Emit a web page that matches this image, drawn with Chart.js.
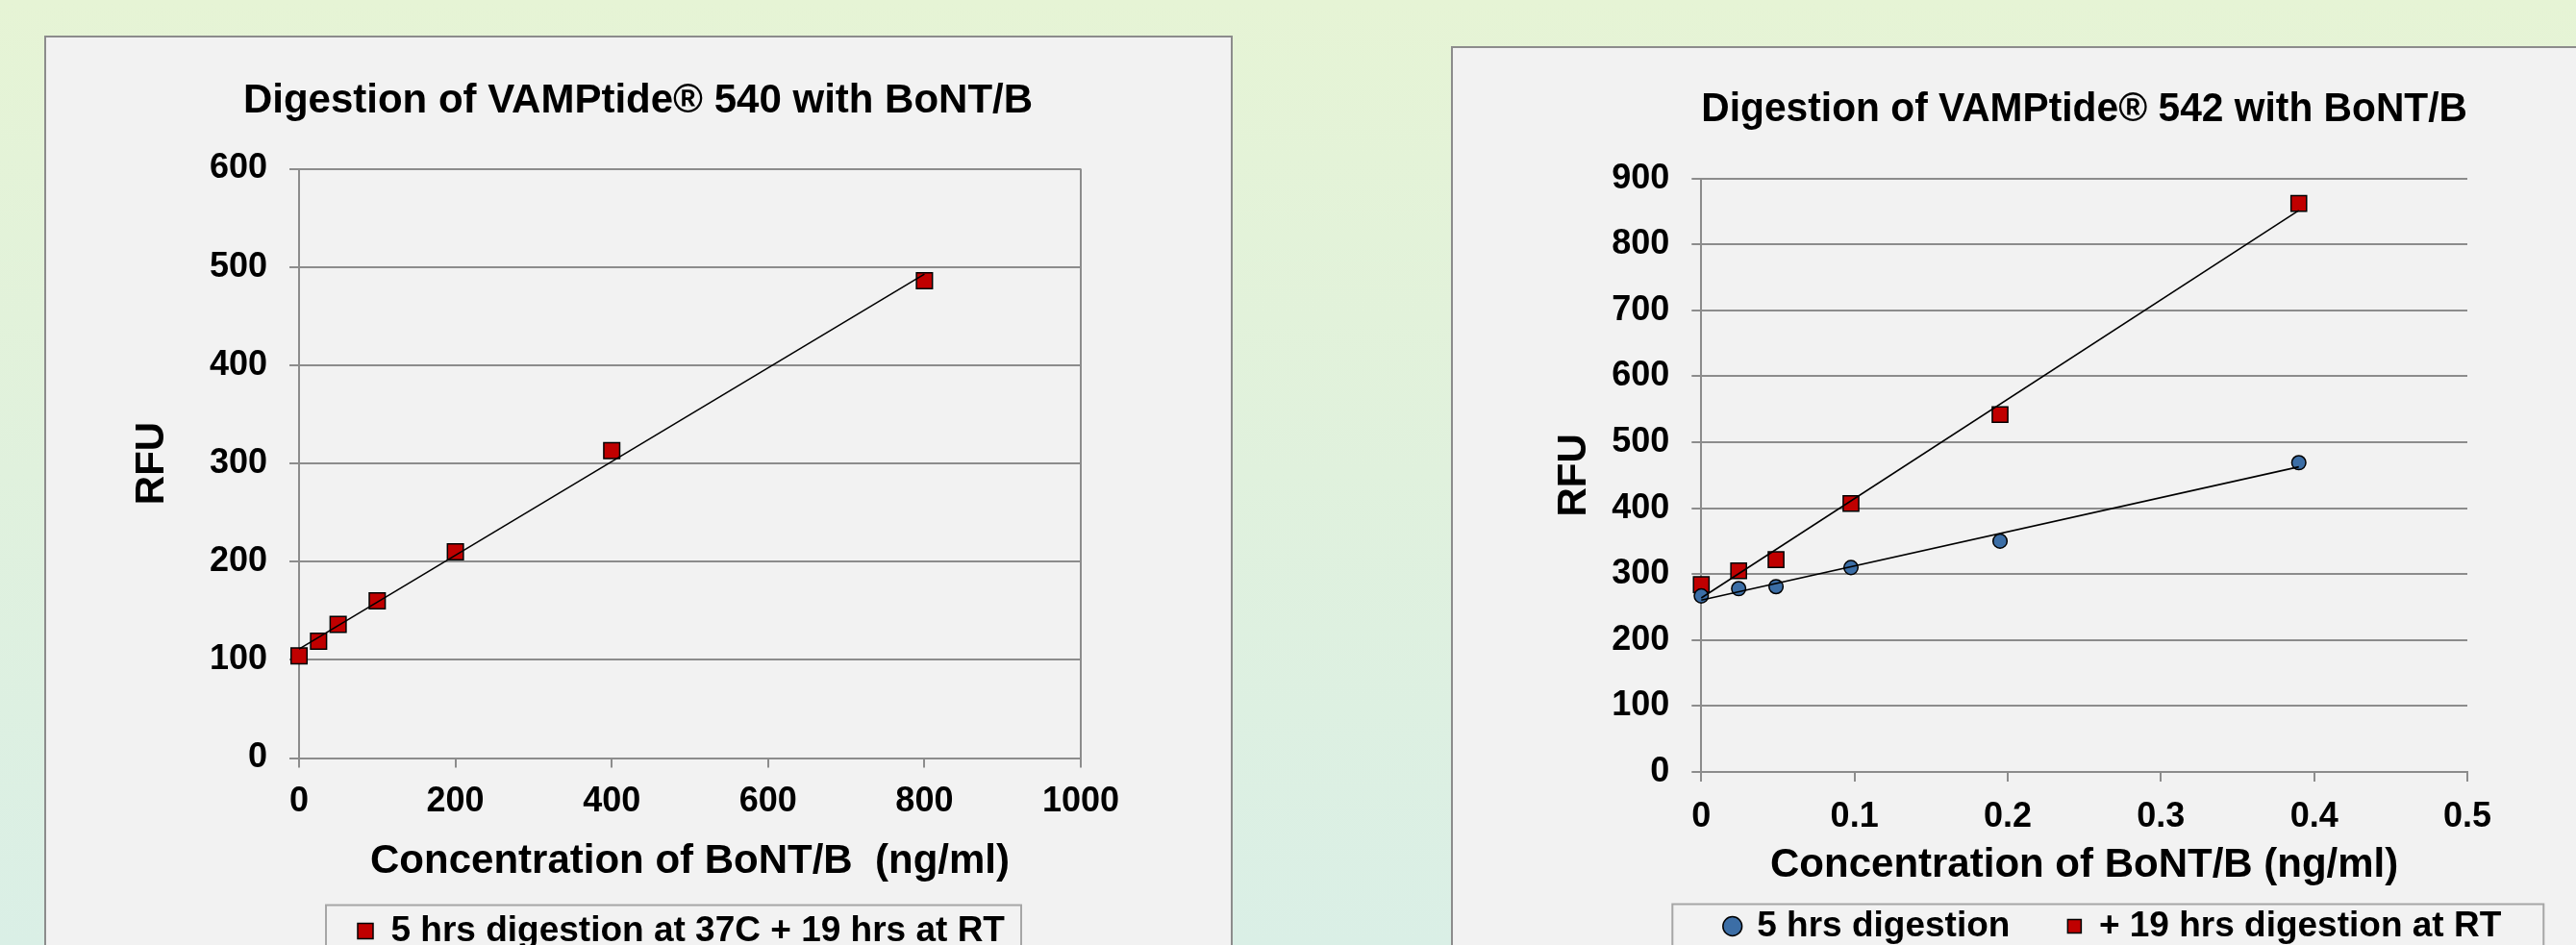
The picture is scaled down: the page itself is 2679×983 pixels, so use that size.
<!DOCTYPE html>
<html><head><meta charset="utf-8">
<script src="https://cdn.jsdelivr.net/npm/chart.js@4.4.1/dist/chart.umd.min.js"></script>
<style>
html,body{margin:0;padding:0;width:2679px;height:983px;overflow:hidden;}
body{position:relative;background:linear-gradient(to bottom,#e6f4d5 0%,#e0f1dd 50%,#daefe6 100%);}
.panel{position:absolute;background:#f2f2f2;border:2px solid #8c8c8c;box-sizing:border-box;}
#p1{left:46px;top:37px;width:1236px;height:1000px;}
#p2{left:1509px;top:48px;width:1250px;height:1000px;}
canvas{position:absolute;}
#c1{left:47px;top:38px;}
#c2{left:1510px;top:49px;}
</style></head><body>
<div class="panel" id="p1"></div><div class="panel" id="p2"></div>
<canvas id="c1" width="1233" height="959"></canvas>
<canvas id="c2" width="1376" height="943"></canvas>
<script>
// ---------- data ----------
const conc540 = [0, 25, 50, 100, 200, 400, 800];
const rfu540 = [104, 119, 136, 160, 210, 313, 486];
const conc542 = [0, 0.0244, 0.0488, 0.0977, 0.195, 0.39];
const rfu542_5h = [267, 278, 281, 310, 350, 469];
const rfu542_19h = [284, 305, 322, 407, 542, 862];
const xTicks540 = [0, 200, 400, 600, 800, 1000];
const yTicks540 = [0, 100, 200, 300, 400, 500, 600];
const xTicks542 = [0, 0.1, 0.2, 0.3, 0.4, 0.5];
const yTicks542 = [0, 100, 200, 300, 400, 500, 600, 700, 800, 900];
const title540 = 'Digestion of VAMPtide\u00AE 540 with BoNT/B';
const title542 = 'Digestion of VAMPtide\u00AE 542 with BoNT/B';
const xTitle540 = 'Concentration of BoNT/B  (ng/ml)';
const xTitle542 = 'Concentration of BoNT/B (ng/ml)';
const yTitle = 'RFU';
const label540 = '5 hrs digestion at 37C + 19 hrs at RT';
const label542a = '5 hrs digestion';
const label542b = '+ 19 hrs digestion at RT';

// ---------- helpers ----------
const FONT = '"Liberation Sans", Arial, Helvetica, sans-serif';
Chart.defaults.font.family = FONT;
Chart.defaults.color = '#000';
const GRID = '#8c8c8c';
const RED = '#c00000';
const BLUE = '#3c6ea6';

function pts(xs, ys) { return xs.map((x, i) => ({x: x, y: ys[i]})); }
// linear least-squares trendline (as Excel's linear trendline)
function trend(xs, ys) {
  const n = xs.length;
  const mx = xs.reduce((a, b) => a + b, 0) / n;
  const my = ys.reduce((a, b) => a + b, 0) / n;
  let sxy = 0, sxx = 0;
  for (let i = 0; i < n; i++) { sxy += (xs[i] - mx) * (ys[i] - my); sxx += (xs[i] - mx) * (xs[i] - mx); }
  const b = sxy / sxx, a = my - b * mx;
  const x0 = Math.min(...xs), x1 = Math.max(...xs);
  return [{x: x0, y: a + b * x0}, {x: x1, y: a + b * x1}];
}
function trendSet(xs, ys) {
  return {isTrend: true, label: 'trend', data: trend(xs, ys), showLine: true, pointRadius: 0,
    pointHoverRadius: 0, borderColor: '#000', borderWidth: 1.6, fill: false, clip: false};
}
function setTicks(arr) { return s => { s.ticks = arr.map(v => ({value: v})); }; }

// frame around the legend, placed relative to the plot area
const legendFrame = {
  id: 'legendFrame',
  afterDraw(chart, args, opts) {
    const lg = chart.legend;
    if (!lg) return;
    const ctx = chart.ctx;
    ctx.save();
    ctx.strokeStyle = '#a6a6a6';
    ctx.lineWidth = 2;
    ctx.strokeRect(chart.chartArea.left + opts.dx, lg.top + opts.dy, opts.width, chart.height);
    ctx.restore();
  }
};

function padAxis(w) {
  return {type: 'linear', position: 'right', display: true, grid: {display: false},
    border: {display: false}, ticks: {display: false}, afterFit: s => { s.width = w; }};
}

function buildChart(id, cfg) {
  return new Chart(document.getElementById(id), {
    type: 'scatter',
    data: {datasets: cfg.datasets},
    plugins: [legendFrame],
    options: {
      responsive: false, animation: false, devicePixelRatio: 1,
      layout: {padding: 0},
      plugins: {
        tooltip: {enabled: false},
        title: {display: true, text: cfg.title, fullSize: cfg.titleFull, color: '#000',
          font: {size: 42, weight: 'bold'}, padding: cfg.titlePad},
        legend: {display: true, position: 'bottom', fullSize: cfg.legendFull, align: cfg.legendAlign,
          labels: {usePointStyle: true, boxHeight: cfg.boxH, boxWidth: cfg.boxH, padding: cfg.legendPad,
            color: '#000', font: {size: 37, weight: 'bold'},
            filter: (item, data) => !data.datasets[item.datasetIndex].isTrend}},
        legendFrame: cfg.frame
      },
      scales: {
        x: {type: 'linear', position: 'bottom', min: cfg.xMin, max: cfg.xMax,
          afterBuildTicks: setTicks(cfg.xTicks), afterFit: s => { s.height = cfg.xH; },
          ticks: {callback: v => String(v), color: '#000', font: {size: 36, weight: 'bold'},
            padding: cfg.xTickPad, maxRotation: 0, autoSkip: false},
          grid: {color: cfg.xGridColor, tickColor: GRID, lineWidth: 2, tickLength: 10, drawTicks: true},
          border: {display: true, color: GRID, width: 2},
          title: {display: true, text: cfg.xTitle, color: '#000', font: {size: 42, weight: 'bold'},
            padding: {top: 0, bottom: cfg.xTitlePad}}},
        y: {type: 'linear', position: 'left', min: cfg.yMin, max: cfg.yMax,
          afterBuildTicks: setTicks(cfg.yTicks), afterFit: s => { s.width = cfg.yW; },
          ticks: {callback: v => String(v), color: '#000', font: {size: 36, weight: 'bold'},
            padding: 23, autoSkip: false},
          grid: {color: GRID, lineWidth: 2, tickLength: 10, drawTicks: true},
          border: {display: true, color: GRID, width: 2},
          title: {display: true, text: yTitle, color: '#000', font: {size: 42, weight: 'bold'},
            padding: {top: cfg.yTitlePad, bottom: 0}}},
        pad: padAxis(cfg.rightPad)
      }
    }
  });
}

// ---------- left chart: VAMPtide 540 ----------
buildChart('c1', {
  title: title540, titleFull: true, titlePad: {top: 42, bottom: 45.1},
  legendFull: false, legendAlign: 'start', legendPad: 61, boxH: 16,
  frame: {width: 723, dx: 28, dy: 52.5},
  datasets: [
    trendSet(conc540, rfu540),
    {label: label540, data: pts(conc540, rfu540), showLine: false, pointStyle: 'rect', clip: false,
      pointRadius: 11.7, pointHoverRadius: 11.7, pointBackgroundColor: RED, pointBorderColor: '#000',
      pointBorderWidth: 1.5, backgroundColor: RED, borderColor: '#000', borderWidth: 1.5}
  ],
  xMin: 0, xMax: 1000, xTicks: xTicks540, xH: 100.5, xTickPad: 14,
  xGridColor: c => (c.tick && c.tick.value === xTicks540[xTicks540.length - 1]) ? GRID : 'rgba(0,0,0,0)',
  xTitle: xTitle540, xTitlePad: -32.7,
  yMin: 0, yMax: 600, yTicks: yTicks540, yW: 264, yTitlePad: 85.8,
  rightPad: 156
});

// ---------- right chart: VAMPtide 542 ----------
buildChart('c2', {
  title: title542, titleFull: false, titlePad: {top: 40, bottom: 46.2},
  legendFull: true, legendAlign: 'center', legendPad: 60, boxH: 14,
  frame: {width: 906, dx: -30, dy: 55.5},
  datasets: [
    trendSet(conc542, rfu542_5h),
    trendSet(conc542, rfu542_19h),
    {label: label542a, data: pts(conc542, rfu542_5h), showLine: false, pointStyle: 'circle', clip: false,
      pointRadius: 7.3, pointHoverRadius: 7.3, pointBackgroundColor: BLUE, pointBorderColor: '#000',
      pointBorderWidth: 1.5, backgroundColor: BLUE, borderColor: '#000', borderWidth: 1.5},
    {label: label542b, data: pts(conc542, rfu542_19h), showLine: false, pointStyle: 'rect', clip: false,
      pointRadius: 11.4, pointHoverRadius: 11.4, pointBackgroundColor: RED, pointBorderColor: '#000',
      pointBorderWidth: 1.5, backgroundColor: RED, borderColor: '#000', borderWidth: 1.5}
  ],
  xMin: 0, xMax: 0.5, xTicks: xTicks542, xH: 82, xTickPad: 15,
  xGridColor: 'rgba(0,0,0,0)',
  xTitle: xTitle542, xTitlePad: -40.2,
  yMin: 0, yMax: 900, yTicks: yTicks542, yW: 259.3, yTitlePad: 101.8,
  rightPad: 320
});
</script>
</body></html>
